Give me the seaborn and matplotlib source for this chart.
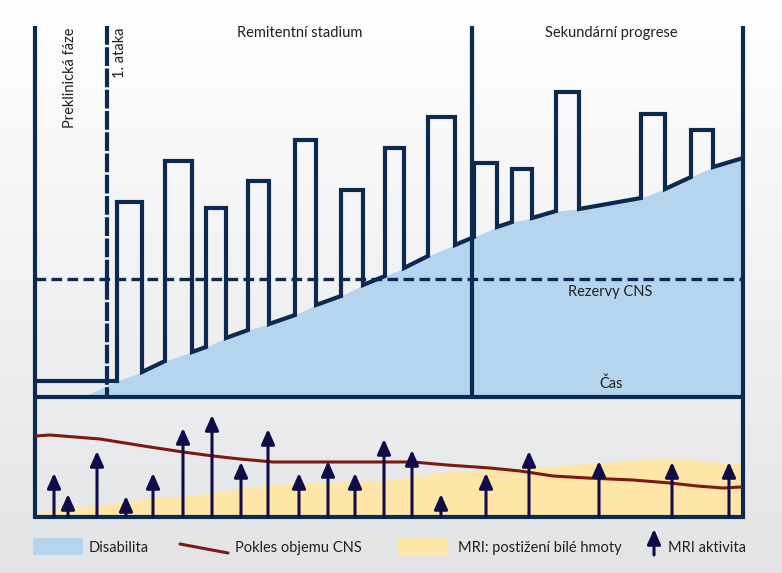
import matplotlib
matplotlib.use("Agg")
import matplotlib.pyplot as plt
import numpy as np
import seaborn as sns
import pandas as pd

sns.set_theme(style="white")
plt.rcParams['font.family'] = ['Lato', 'DejaVu Sans']

# --- data (x = time, y = level, both in picture units, y grows downwards) ---
# relapses: start, end, peak
box_start = [117, 165, 206, 248, 295, 341, 385, 428, 474, 512, 556, 641, 691]
box_end = [142, 192, 226, 269, 316, 363, 404, 455, 497, 532, 579, 665, 713]
box_top = [202, 161, 208, 181, 140, 190, 148, 117, 163, 169, 92, 114, 130]
# disability level at start/end of each relapse
base_start = [381, 361, 347, 330, 315, 296, 276, 256, 237, 222, 211, 198, 177]
base_end = [372, 352, 338, 324, 305, 285, 268, 245, 227, 218, 209, 189, 167]
preclin_x = [35, 117]
preclin_y = [381, 381]
end_x, end_y = 743, 158
dis_start_x, dis_start_y = 83, 397

# CNS volume decline
cns_x = [36, 50, 100, 150, 183, 213, 240, 273, 300, 333, 383, 413, 447, 490, 520, 553, 587, 633, 670, 697, 723, 741]
cns_y = [436, 435, 439, 447, 452, 456, 459, 462, 462, 462, 462, 462, 465, 468, 471, 476, 478, 480, 483, 486, 488, 487]

# MRI white matter lesions
mri_x = [37, 50, 100, 150, 183, 233, 267, 300, 333, 367, 400, 413, 447, 480, 513, 547, 580, 613, 647, 667, 697, 741]
mri_y = [513, 510, 505, 498, 496, 490, 485, 483, 482, 481, 479, 476, 472, 470, 469, 467, 464, 462, 459, 458, 460, 464]

# MRI activity arrows
arrow_x = [54, 68, 97, 126, 153, 183, 212, 241, 268, 299, 328, 355, 384, 412, 441, 486, 529, 599, 672, 729]
arrow_tip = [473, 494, 451, 496, 473, 428, 415, 462, 429, 473, 461, 473, 439, 450, 494, 473, 451, 461, 462, 462]

navy = "#0c2a50"
blue = "#b5d5ef"
orange = "#fee5a8"
brown = "#7a1a12"
arrow_c = "#100c48"

# build disability trace
tx, ty = list(preclin_x), list(preclin_y)
fx, fy = [dis_start_x], [dis_start_y]
for s, e, t, bs, be in zip(box_start, box_end, box_top, base_start, base_end):
    tx += [s, s, e, e]
    ty += [bs, t, t, be]
    fx += [s, e]
    fy += [bs, be]
tx.append(end_x); ty.append(end_y)
fx.append(end_x); fy.append(end_y)

fig = plt.figure(figsize=(7.82, 5.73), dpi=100)
ax = fig.add_axes([0, 0, 1, 1])
ax.set_xlim(0, 782)
ax.set_ylim(573, 0)
ax.axis('off')

# background gradient
grad = np.linspace(0, 1, 256).reshape(-1, 1)
top = np.array([1.0, 1.0, 1.0])
bot = np.array([0.89, 0.894, 0.902])
img = top + (bot - top) * grad[..., None]
ax.imshow(img, extent=[0, 782, 573, 0], aspect='auto', zorder=0)

# disability fill
ax.fill_between(fx, fy, 397, color=blue, lw=0, zorder=1)
# MRI lesion fill
ax.fill_between(mri_x, mri_y, 517, color=orange, lw=0, zorder=1)

# reserve line
ax.plot([35, 743], [279, 279], color=navy, lw=2.4, dashes=(3.2, 1.6), zorder=3)

# trace
trace = pd.DataFrame({"t": tx, "level": ty})
sns.lineplot(data=trace, x="t", y="level", sort=False, estimator=None, color=navy, lw=3,
             ax=ax, zorder=4, solid_joinstyle='miter')

# frame lines
lw = 3
ax.plot([35, 35], [26, 519], color=navy, lw=lw, zorder=5, solid_capstyle='butt')
ax.plot([743, 743], [26, 519], color=navy, lw=lw, zorder=5, solid_capstyle='butt')
ax.plot([472, 472], [26, 397], color=navy, lw=lw, zorder=5, solid_capstyle='butt')
ax.plot([107, 107], [26, 397], color=navy, lw=lw, zorder=5, dashes=(4.5, 0.6))
ax.plot([33.5, 744.5], [397, 397], color=navy, lw=lw, zorder=5, solid_capstyle='butt')
ax.plot([33.5, 744.5], [517, 517], color=navy, lw=lw, zorder=5, solid_capstyle='butt')

# CNS volume
cns = pd.DataFrame({"t": cns_x, "vol": cns_y})
sns.lineplot(data=cns, x="t", y="vol", estimator=None, color=brown, lw=2.2, ax=ax, zorder=6)

# arrows
astyle = "-|>,head_length=0.45,head_width=0.2"
for x, tip in zip(arrow_x, arrow_tip):
    ax.annotate("", xy=(x, tip), xytext=(x, 516),
                arrowprops=dict(arrowstyle=astyle, color=arrow_c, lw=2.2,
                                shrinkA=0, shrinkB=0, mutation_scale=20), zorder=7)

ax.set_xlim(0, 782)
ax.set_ylim(573, 0)
ax.set_xlabel("")
ax.set_ylabel("")

tc = "#231f20"
fs = 10.5
ax.text(70, 28, "Preklinická fáze", rotation=90, ha='center', va='top', fontsize=fs, color=tc, zorder=8)
ax.text(120, 27, "1. ataka", rotation=90, ha='center', va='top', fontsize=fs, color=tc, zorder=8)
ax.text(300, 33, "Remitentní stadium", ha='center', va='center', fontsize=fs, color=tc, zorder=8)
ax.text(611, 33, "Sekundární progrese", ha='center', va='center', fontsize=fs, color=tc, zorder=8)
ax.text(610, 292, "Rezervy CNS", ha='center', va='center', fontsize=fs, color=tc, zorder=8)
ax.text(611, 384, "Čas", ha='center', va='center', fontsize=fs, color=tc, zorder=8)

# legend
ax.add_patch(plt.Rectangle((33, 538), 50, 17, color=blue, lw=0, zorder=2))
ax.text(89, 548, "Disabilita", ha='left', va='center', fontsize=fs, color=tc)
ax.plot([180, 228], [544, 553], color=brown, lw=2.2)
ax.text(235, 548, "Pokles objemu CNS", ha='left', va='center', fontsize=fs, color=tc)
ax.add_patch(plt.Rectangle((398, 538), 50, 17, color=orange, lw=0, zorder=2))
ax.text(458, 548, "MRI: postižení bílé hmoty", ha='left', va='center', fontsize=fs, color=tc)
ax.annotate("", xy=(654, 529), xytext=(654, 555),
            arrowprops=dict(arrowstyle=astyle, color=arrow_c, lw=2.2,
                            shrinkA=0, shrinkB=0, mutation_scale=20))
ax.text(668, 548, "MRI aktivita", ha='left', va='center', fontsize=fs, color=tc)

fig.savefig("out.png", dpi=100)
